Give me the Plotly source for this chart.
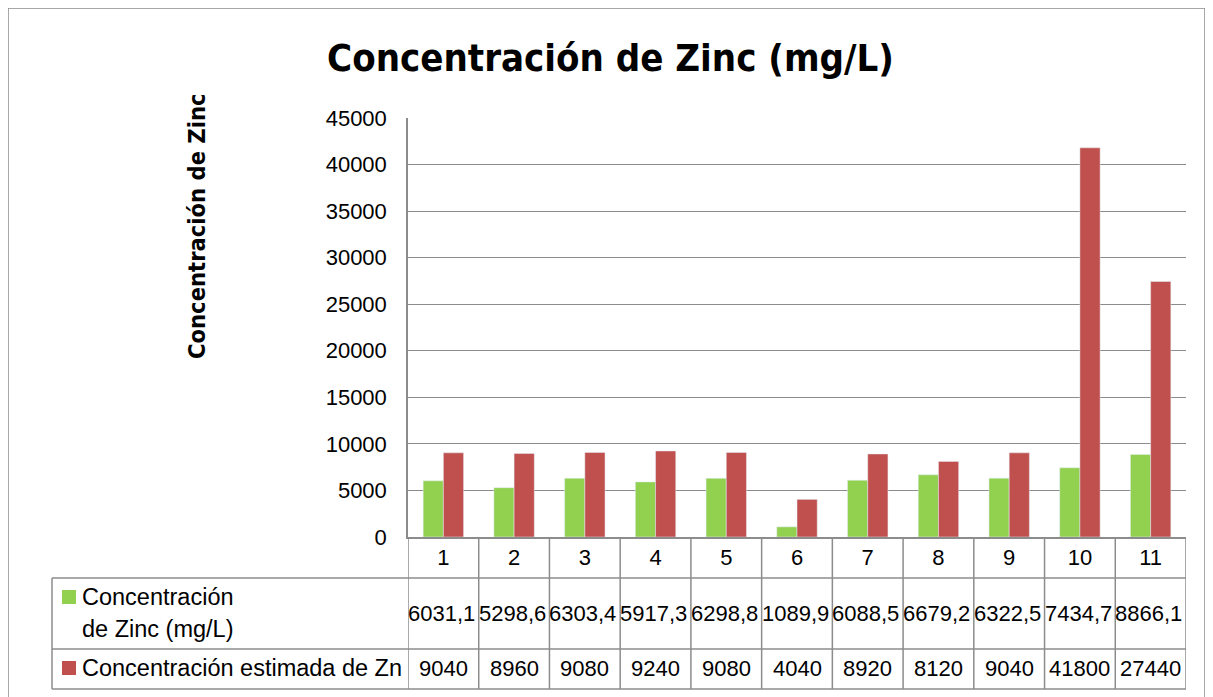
import plotly.graph_objects as go

# data
muestras = [1, 2, 3, 4, 5, 6, 7, 8, 9, 10, 11]
zinc_medido = [6031.1, 5298.6, 6303.4, 5917.3, 6298.8, 1089.9, 6088.5, 6679.2, 6322.5, 7434.7, 8866.1]
zinc_estimado = [9040, 8960, 9080, 9240, 9080, 4040, 8920, 8120, 9040, 41800, 27440]
nombre_medido = "Concentración de Zinc (mg/L)"
nombre_estimado = "Concentración estimada de Zn"

VERDE = "#92D050"
ROJO = "#C0504D"
GRIS = "#8C8C8C"
FUENTE = "Liberation Sans, Arial, sans-serif"
NARROW = "Liberation Sans Narrow, Arial Narrow, DejaVu Sans Condensed, sans-serif"

fig = go.Figure()
fig.add_trace(go.Bar(x=muestras, y=zinc_medido, name=nombre_medido, marker_color=VERDE))
fig.add_trace(go.Bar(x=muestras, y=zinc_estimado, name=nombre_estimado, marker_color=ROJO))

# plot area on screen: x 408..1186 px, y 118..537 px (page has an 8px body margin)
def py(p):
    return (537 - p) / 419

def px(p):
    return (p - 408) / 778

shapes = []
linea = dict(color=GRIS, width=1.5)

# outer chart border
shapes.append(dict(type="rect", xref="paper", yref="paper", x0=px(8), x1=px(1205),
                   y0=py(710), y1=py(8), line=dict(color=GRIS, width=1.5)))

# data table: vertical separators at category edges
for m in muestras + [0]:
    shapes.append(dict(type="line", xref="x", yref="paper", x0=m + 0.5, x1=m + 0.5,
                       y0=py(689), y1=0, line=linea))
# left label column
shapes.append(dict(type="line", xref="paper", yref="paper", x0=px(52), x1=px(52),
                   y0=py(689), y1=py(578), line=linea))
for yy in [578, 649, 689]:
    shapes.append(dict(type="line", xref="paper", yref="paper", x0=px(52), x1=1,
                       y0=py(yy), y1=py(yy), line=linea))

# legend keys in the table
for color, top in [(VERDE, 590), (ROJO, 661)]:
    shapes.append(dict(type="rect", xref="paper", yref="paper", x0=px(62), x1=px(76),
                       y0=py(top + 14), y1=py(top), fillcolor=color, line=dict(width=0)))

annotations = []
# row labels
for texto, yy in [("Concentración", 597), ("de Zinc (mg/L)", 629), (nombre_estimado, 668)]:
    annotations.append(dict(text=texto, xref="paper", yref="paper", x=px(80), y=py(yy),
                            xanchor="left", yanchor="middle", showarrow=False,
                            font=dict(size=23.5, color="black", family=FUENTE)))

# table values
for m, v1, v2 in zip(muestras, zinc_medido, zinc_estimado):
    t1 = f"{v1:.1f}".replace(".", ",")
    annotations.append(dict(text=t1, xref="x", yref="paper", x=m - 0.5, y=py(613),
                            xanchor="left", yanchor="middle", xshift=-2, showarrow=False,
                            font=dict(size=22, color="black", family=FUENTE)))
    annotations.append(dict(text=str(v2), xref="x", yref="paper", x=m, y=py(668),
                            xanchor="center", yanchor="middle", showarrow=False,
                            font=dict(size=22, color="black", family=FUENTE)))

# y axis title
annotations.append(dict(text="<b>Concentración de Zinc</b>", xref="paper", yref="paper",
                        x=px(197), y=py(226), textangle=-90, showarrow=False,
                        xanchor="center", yanchor="middle",
                        font=dict(size=23.5, color="black", family=NARROW)))

fig.update_layout(
    width=1205, height=689,
    margin=dict(l=400, r=27, t=110, b=160),
    paper_bgcolor="white", plot_bgcolor="white",
    barmode="group", bargap=1.5 / 3.5, bargroupgap=0,
    showlegend=False,
    title=dict(text="<b>Concentración de Zinc (mg/L)</b>", x=0.5, xref="container",
               y=1 - 50 / 689, yref="container", xanchor="center", yanchor="middle",
               font=dict(size=38, color="black", family=NARROW)),
    shapes=shapes,
    annotations=annotations,
)
fig.update_xaxes(range=[0.5, 11.5], tickvals=muestras, ticktext=[str(m) for m in muestras],
                 showline=True, linecolor=GRIS, linewidth=1.5, ticks="",
                 tickfont=dict(size=22, color="black", family=FUENTE), ticklabelstandoff=0,
                 showgrid=False, zeroline=False)
fig.update_yaxes(range=[0, 45000], dtick=5000, showgrid=True, gridcolor=GRIS, gridwidth=1,
                 showline=True, linecolor=GRIS, linewidth=1.5, ticks="", zeroline=False,
                 tickformat="d", ticklabelstandoff=15,
                 tickfont=dict(size=22, color="black", family=FUENTE))

fig.write_html("out.html")
